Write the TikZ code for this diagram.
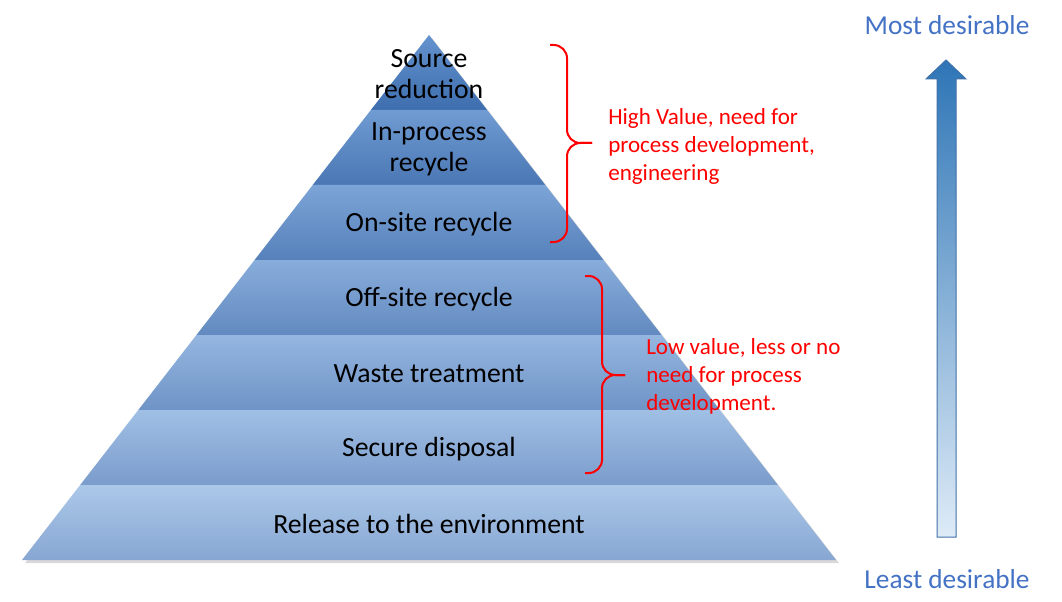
\documentclass[tikz,border=0pt]{standalone}
\usepackage{fontspec}
\setmainfont{Carlito}
\usetikzlibrary{arrows.meta}
\definecolor{bandtopA}{RGB}{100,146,206}
\definecolor{bandtopG}{RGB}{172,200,233}
\definecolor{bandbotA}{RGB}{62,110,174}
\definecolor{bandbotG}{RGB}{135,166,210}
\definecolor{arrowtop}{RGB}{46,117,182}
\definecolor{arrowbot}{RGB}{222,235,247}
\definecolor{arrowline}{RGB}{65,113,170}
\definecolor{rankblue}{RGB}{68,114,196}
\begin{document}
\begin{tikzpicture}[x=0.75pt,y=-0.75pt]
        \tikzstyle{level}=[font=\fontsize{20.8}{23.3}\selectfont,align=center,text=black]
        \tikzstyle{note}=[font=\fontsize{17.3}{21}\selectfont,align=left,text=red,anchor=west,inner sep=0pt]
        \tikzstyle{brace}=[red,line width=1.5pt,rounded corners=10pt]
        \tikzstyle{rank}=[font=\fontsize{20.5}{24}\selectfont,text=rankblue]
        \useasboundingbox (0,0) rectangle (1062,602);
        \fill [black!15] (432,38) -- (839,563) -- (25,563) -- cycle;
        \foreach \i in {1,...,7} {
            \pgfmathsetmacro{\ytop}{35+75*(\i-1)}
            \pgfmathsetmacro{\ybot}{35+75*\i}
            \pgfmathsetmacro{\wtop}{0.77524*(\ytop-35)}
            \pgfmathsetmacro{\wbot}{0.77524*(\ybot-35)}
            \pgfmathsetmacro{\mix}{100*(\i-1)/6}
            \shade [top color=bandtopG!\mix!bandtopA,bottom color=bandbotG!\mix!bandbotA]
                (429-\wtop,\ytop) -- (429+\wtop,\ytop) -- (429+\wbot,\ybot) -- (429-\wbot,\ybot) -- cycle;
        }
        \node [level] (src) at (429,74) {Source\\reduction};
        \node [level] (inproc) at (429,149) {In-process\\recycle};
        \node [level] (onsite) at (429,224) {On-site recycle};
        \node [level] (offsite) at (429,299) {Off-site recycle};
        \node [level] (treat) at (429,374) {Waste treatment};
        \node [level] (disposal) at (429,449) {Secure disposal};
        \node [level] (release) at (429,524) {Release to the environment};
        \draw [brace] (550,45) -| (567,143) -- (592,143);
        \draw [brace] (550,242) -| (567,143) -- (592,143);
        \draw [brace] (585,276) -| (602,375) -- (625,375);
        \draw [brace] (585,473) -| (602,375) -- (625,375);
        \node [note] (highval) at (608,146) {High Value, need for\\process development,\\engineering};
        \node [note] (lowval) at (646,376) {Low value, less or no\\need for process\\development.};
        \shadedraw [top color=arrowtop,bottom color=arrowbot,draw=arrowline,line width=0.75pt]
            (937,537) -- (937,79) -- (926,79) -- (946,60) -- (966,79) -- (956,79) -- (956,537) -- cycle;
        \node [rank] (most) at (947,25) {Most desirable};
        \node [rank] (least) at (947,579) {Least desirable};
\end{tikzpicture}
\end{document}
